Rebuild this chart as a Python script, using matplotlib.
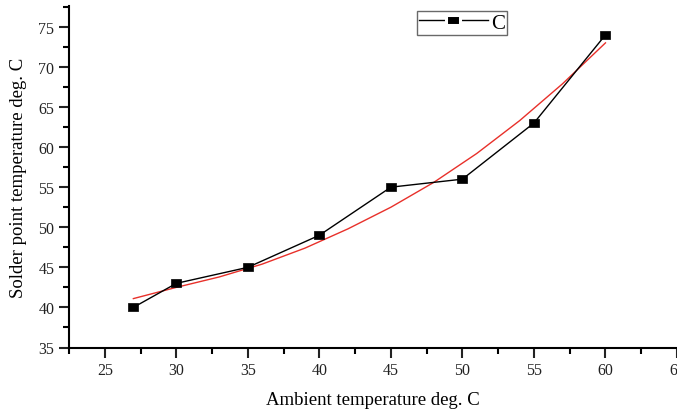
import numpy as np
import matplotlib
matplotlib.use('Agg')
import matplotlib.pyplot as plt
from matplotlib.ticker import MultipleLocator
from matplotlib.lines import Line2D

# measured points
ambient = [27, 30, 35, 40, 45, 50, 55, 60]
solder = [40, 43, 45, 49, 55, 56, 63, 74]

# red fit curve
fit_x = [27, 30, 33, 36, 39, 42, 45, 48, 51, 54, 57, 60]
fit_y = [41.1, 42.5, 43.8, 45.4, 47.4, 49.8, 52.5, 55.6, 59.2, 63.3, 67.9, 73.0]

plt.rcParams['font.family'] = ['Liberation Serif', 'DejaVu Serif']

# slightly flat square, like the Origin marker
rect = [(-1.25, -1), (1.25, -1), (1.25, 1), (-1.25, 1), (-1.25, -1)]

fig = plt.figure(figsize=(6.77, 4.10), dpi=100)
ax = fig.add_axes([69/677, 1-348.5/410, 1-69/677, 341.5/410])

ax.plot(ambient, solder, color='black', lw=1.0, marker=rect, markersize=7.5,
        markerfacecolor='black', markeredgecolor='black', markeredgewidth=0.5, zorder=3)
ax.plot(fit_x, fit_y, color='#e8302a', lw=1.0, zorder=2)

ax.set_xlim(22.5, 65)
ax.set_ylim(35, 77.6)
ax.xaxis.set_major_locator(MultipleLocator(5))
ax.xaxis.set_minor_locator(MultipleLocator(2.5))
ax.yaxis.set_major_locator(MultipleLocator(5))
ax.yaxis.set_minor_locator(MultipleLocator(2.5))

for s in ['top', 'right']:
    ax.spines[s].set_visible(False)
for s in ['left', 'bottom']:
    ax.spines[s].set_linewidth(1.5)
ax.tick_params(which='major', direction='out', length=7, width=1.5, labelsize=11.5, colors='#222222')
ax.tick_params(which='minor', direction='out', length=4, width=1.5)

ax.set_xlabel('Ambient temperature deg. C', fontsize=13.5, labelpad=9)
ax.set_ylabel('Solder point temperature deg. C', fontsize=13.5, labelpad=8)

handle = Line2D([], [], color='black', lw=1.0, marker=rect, markersize=9.5,
                markerfacecolor='black', markeredgecolor='white', markeredgewidth=2.2)
leg = ax.legend([handle], ['C'], loc='upper left', bbox_to_anchor=(0.572, 0.985),
                fontsize=15, frameon=True, fancybox=False, edgecolor='#444444',
                handlelength=3.3, handletextpad=0.15, borderpad=0.1,
                borderaxespad=0)
leg.get_frame().set_linewidth(1.0)

plt.savefig('out.png', dpi=100)
